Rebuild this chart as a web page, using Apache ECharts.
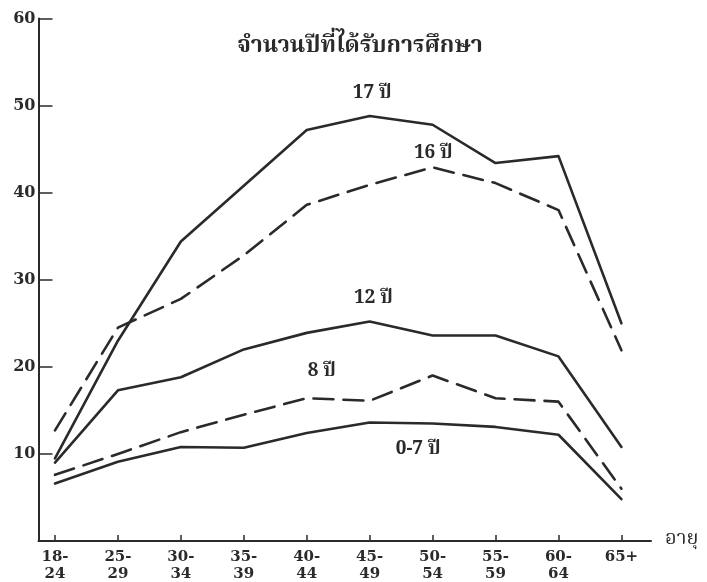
<!DOCTYPE html>
<html>
<head>
<meta charset="utf-8">
<script src="https://cdn.jsdelivr.net/npm/echarts@6/dist/echarts.min.js"></script>
<style>
html,body{margin:0;padding:0;background:#fff;}
#chart{width:707px;height:582px;}
</style>
</head>
<body>
<div id="chart"></div>
<script>
var categories = ['18-\n24','25-\n29','30-\n34','35-\n39','40-\n44','45-\n49','50-\n54','55-\n59','60-\n64','65+'];
var yTicks = [10,20,30,40,50,60];

var s17 = [9.5, 23.0, 34.4, 40.8, 47.2, 48.8, 47.8, 43.4, 44.2, 25.0];
var s16 = [12.7, 24.5, 27.8, 32.8, 38.6, 40.9, 42.9, 41.1, 38.0, 21.9];
var s12 = [9.0, 17.3, 18.8, 22.0, 23.9, 25.2, 23.6, 23.6, 21.2, 10.8];
var s8  = [7.6, 10.0, 12.5, 14.5, 16.4, 16.1, 19.0, 16.4, 16.0, 6.0];
var s07 = [6.6, 9.1, 10.8, 10.7, 12.4, 13.6, 13.5, 13.1, 12.2, 4.8];

var seriesNames = ['17 ปี','16 ปี','12 ปี','8 ปี','0-7 ปี'];
var labelX = [5.04, 6.01, 5.06, 4.24, 5.77];
var labelY = [51.2, 44.3, 27.7, 19.3, 10.4];

var titleText = 'จำนวนปีที่ได้รับการศึกษา';
var xAxisName = 'อายุ';

var thaiFont = '"Noto Serif Thai","Noto Sans Thai","Loma","Garuda","Norasi","DejaVu Serif","Liberation Serif",serif';
var numFont = '"DejaVu Serif","Liberation Serif",serif';
var ink = '#2a2a2a';

function toPairs(arr){ return arr.map(function(v,i){ return [i, v]; }); }

var allData = [s17, s16, s12, s8, s07];
var dashed = [false, true, false, true, false];

var series = allData.map(function(d, k){
  return {
    type: 'line',
    name: seriesNames[k],
    data: toPairs(d),
    symbol: 'none',
    silent: true,
    lineStyle: {
      color: ink,
      width: 2.6,
      type: dashed[k] ? [20, 10] : 'solid',
      cap: 'round',
      join: 'round'
    },
    markPoint: {
      symbol: 'circle',
      symbolSize: 0,
      silent: true,
      data: [{ coord: [labelX[k], labelY[k]], value: seriesNames[k] }],
      label: {
        show: true,
        position: 'inside',
        formatter: seriesNames[k],
        color: ink,
        fontSize: 19,
        fontWeight: 'bold',
        fontFamily: thaiFont
      }
    }
  };
});

var chart = echarts.init(document.getElementById('chart'), null, {renderer: 'canvas'});
chart.setOption({
  animation: false,
  backgroundColor: '#ffffff',
  title: {
    text: titleText,
    left: 355,
    top: 32,
    textAlign: 'center',
    textStyle: { color: ink, fontSize: 23, fontWeight: 'bold', fontFamily: thaiFont }
  },
  grid: { left: 38.5, right: 56, top: 18.5, bottom: 41, containLabel: false, outerBoundsMode: 'none' },
  xAxis: {
    type: 'value',
    min: -0.262,
    max: 9.47,
    name: xAxisName,
    nameLocation: 'end',
    nameGap: 14,
    nameTextStyle: { color: ink, fontSize: 20, fontFamily: thaiFont, verticalAlign: 'middle' },
    splitLine: { show: false },
    axisLine: { show: true, onZero: false, lineStyle: { color: ink, width: 2 } },
    axisTick: { show: true, inside: true, length: 6, lineStyle: { color: ink, width: 1.5 },
      customValues: categories.map(function(c,i){ return i; }) },
    axisLabel: {
      customValues: categories.map(function(c,i){ return i; }),
      formatter: function(v){ return categories[Math.round(v)] || ''; },
      color: ink, fontSize: 15, fontWeight: 'bold', fontFamily: numFont,
      lineHeight: 17, margin: 8, align: 'center'
    }
  },
  yAxis: {
    type: 'value',
    min: 0,
    max: 60,
    interval: 10,
    splitLine: { show: false },
    axisLine: { show: true, onZero: false, lineStyle: { color: ink, width: 2 } },
    axisTick: { show: true, inside: true, length: 14, lineStyle: { color: ink, width: 1.5 } },
    axisLabel: {
      formatter: function(v){ return yTicks.indexOf(v) >= 0 ? String(v) : ''; },
      color: ink, fontSize: 16, fontWeight: 'bold', fontFamily: numFont,
      margin: 3
    }
  },
  series: series
});
</script>
</body>
</html>
